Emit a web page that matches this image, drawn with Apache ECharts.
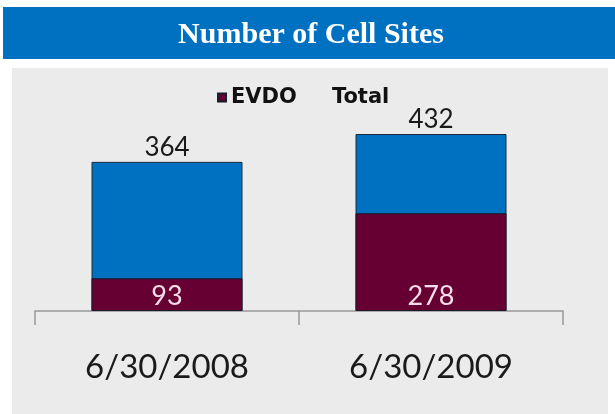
<!DOCTYPE html>
<html>
<head>
<meta charset="utf-8">
<script src="https://cdn.jsdelivr.net/npm/echarts@6/dist/echarts.min.js"></script>
<style>
  html, body { margin: 0; padding: 0; background: #ffffff; }
  #main { width: 615px; height: 414px; }
</style>
</head>
<body>
<div id="main"></div>
<script>
    var myChart = echarts.init(document.getElementById('main'));

    // data
    var dates = ['6/30/2008', '6/30/2009'];
    var evdo = [93, 278];
    var total = [364, 432];

    var option = {
        // blue title bar and grey panel behind the plot
        graphic: [{
            type: 'rect',
            z: -10,
            shape: { x: 3, y: 7, width: 612, height: 52 },
            style: { fill: '#0070c0' }
        }, {
            type: 'rect',
            z: -10,
            shape: { x: 12, y: 68, width: 596, height: 346 },
            style: { fill: '#ebebeb' }
        }],
        title: {
            text: 'Number of Cell Sites',
            left: 306,
            textAlign: 'center',
            top: 15,
            textStyle: {
                color: '#ffffff',
                fontFamily: 'Liberation Serif',
                fontWeight: 'bold',
                fontSize: 30
            }
        },
        legend: {
            top: 82,
            left: 212,
            itemWidth: 8,
            itemHeight: 8,
            itemGap: 22,
            textStyle: {
                fontFamily: 'DejaVu Sans',
                fontWeight: 'bold',
                fontSize: 21,
                color: '#111111'
            },
            data: [
                { name: 'EVDO', icon: 'rect' },
                { name: 'Total', icon: 'rect', itemStyle: { color: 'rgba(0,0,0,0)', borderWidth: 0 } }
            ]
        },
        grid: {
            left: 35,
            right: 52,
            top: 100,
            bottom: 103
        },
        xAxis: {
            type: 'category',
            data: dates,
            axisLine: { lineStyle: { color: '#999999', width: 1.5 } },
            axisTick: { show: true, length: 14, lineStyle: { color: '#999999', width: 1.5 } },
            axisLabel: {
                margin: 40,
                color: '#1a1a1a',
                fontFamily: 'Lato',
                fontSize: 33
            }
        },
        // the source graphic is not drawn to one scale, so each series gets its own axis
        yAxis: [{
            type: 'value',
            min: 0,
            max: 515,
            show: false
        }, {
            type: 'value',
            min: 0,
            max: 600,
            show: false
        }],
        series: [{
            name: 'Total',
            type: 'bar',
            yAxisIndex: 0,
            barWidth: 151,
            barGap: '-100%',
            data: total,
            itemStyle: { color: '#0070c0', borderColor: '#1a2a3a', borderWidth: 1 },
            label: {
                show: true,
                position: 'top',
                distance: 1,
                color: '#1a1a1a',
                fontFamily: 'Lato',
                fontSize: 26
            }
        }, {
            name: 'EVDO',
            type: 'bar',
            yAxisIndex: 1,
            barWidth: 151,
            data: evdo,
            itemStyle: { color: '#660033', borderColor: '#1a1a2a', borderWidth: 1 },
            label: {
                show: true,
                position: 'insideBottom',
                distance: 1,
                color: '#f6dbe8',
                fontFamily: 'Lato',
                fontSize: 27
            }
        }]
    };

    myChart.setOption(option);
</script>
</body>
</html>
